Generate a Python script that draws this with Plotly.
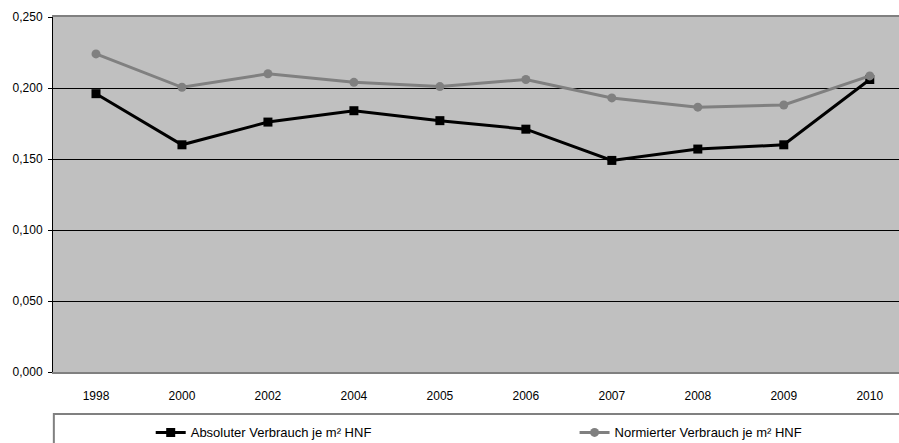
import plotly.graph_objects as go

years = ["1998", "2000", "2002", "2004", "2005", "2006", "2007", "2008", "2009", "2010"]
absolut = [0.196, 0.160, 0.176, 0.184, 0.177, 0.171, 0.149, 0.157, 0.160, 0.206]
normiert = [0.224, 0.2005, 0.210, 0.204, 0.201, 0.206, 0.193, 0.1865, 0.188, 0.2085]
name_abs = "Absoluter Verbrauch je m² HNF"
name_norm = "Normierter Verbrauch je m² HNF"
y_ticks = [0, 0.05, 0.1, 0.15, 0.2, 0.25]

fig = go.Figure()
fig.add_trace(go.Scatter(
    x=list(range(len(years))), y=absolut, name=name_abs, mode="lines+markers",
    line=dict(color="#000000", width=3),
    marker=dict(symbol="square", size=9, color="#000000"),
    legend="legend",
))
fig.add_trace(go.Scatter(
    x=list(range(len(years))), y=normiert, name=name_norm, mode="lines+markers",
    line=dict(color="#808080", width=3),
    marker=dict(symbol="circle", size=9, color="#808080"),
    legend="legend2",
))

font = dict(family="Liberation Sans, Arial, sans-serif", size=12, color="#000000")
leg_font = dict(family="Liberation Sans, Arial, sans-serif", size=13, color="#000000")
leg_common = dict(
    orientation="h", y=-0.128, xanchor="left", yanchor="top",
    font=leg_font, bgcolor="rgba(0,0,0,0)", itemwidth=30,
)

fig.update_layout(
    width=899, height=443,
    margin=dict(l=53, r=0, t=17, b=71, autoexpand=False),
    paper_bgcolor="#ffffff",
    plot_bgcolor="#c0c0c0",
    separators=",.",
    font=font,
    showlegend=True,
    legend=dict(x=0.1155, **leg_common),
    legend2=dict(x=0.6165, **leg_common),
    xaxis=dict(
        range=[-0.5, 9.34],
        tickmode="array", tickvals=list(range(len(years))), ticktext=years,
        showgrid=False, zeroline=False,
        showline=True, linecolor="#808080", linewidth=2, mirror=True,
        ticks="", ticklabelstandoff=12, automargin=False,
    ),
    yaxis=dict(
        range=[0, 0.25], tickvals=y_ticks, tickformat=".3f",
        showgrid=True, gridcolor="#000000", gridwidth=1,
        zeroline=False,
        showline=True, linecolor="#000000", linewidth=1,
        ticks="outside", ticklen=4, tickcolor="#000000",
        ticklabelstandoff=3, automargin=False,
    ),
    shapes=[
        dict(type="rect", xref="paper", yref="paper",
             x0=0.001, x1=1.05, y0=-0.118, y1=-0.30,
             line=dict(color="#808080", width=2), fillcolor="rgba(0,0,0,0)", layer="below"),
    ],
)

fig.write_html(
    "out.html",
    config={"displayModeBar": False},
    post_script="document.body.style.margin='0';document.body.style.overflow='hidden';",
)
